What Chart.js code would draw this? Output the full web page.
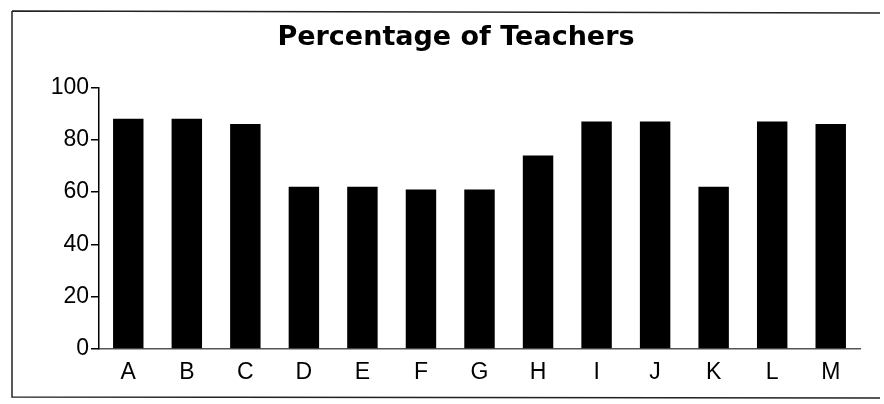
<!DOCTYPE html>
<html>
<head>
<meta charset="utf-8">
<script src="https://cdn.jsdelivr.net/npm/chart.js@4.4.0/dist/chart.umd.min.js"></script>
<style>
    html, body { margin: 0; padding: 0; background: #fff; }
    #wrap { width: 884px; height: 404px; position: relative; }
</style>
</head>
<body>
<div id="wrap"><canvas id="chart"></canvas></div>
<script>
// categories and values
const schools = ['A', 'B', 'C', 'D', 'E', 'F', 'G', 'H', 'I', 'J', 'K', 'L', 'M'];
const teacherPct = [88, 88, 86, 62, 62, 61, 61, 74, 87, 87, 62, 87, 86];
const yTicks = [0, 20, 40, 60, 80, 100];

// frame around the whole figure, like the scanned box
const framePlugin = {
    id: 'frame',
    beforeDraw(chart) {
        const ctx = chart.ctx;
        ctx.save();
        ctx.strokeStyle = '#222';
        ctx.lineWidth = 1.5;
        ctx.beginPath();
        ctx.moveTo(12, 11);
        ctx.lineTo(880, 13);
        ctx.moveTo(12, 11);
        ctx.lineTo(12, 397);
        ctx.lineTo(880, 398);
        ctx.stroke();
        ctx.restore();
    }
};

const ctx = document.getElementById('chart').getContext('2d');
new Chart(ctx, {
    type: 'bar',
    data: {
        labels: schools,
        datasets: [{
            label: 'Percentage of Teachers',
            data: teacherPct,
            backgroundColor: '#000',
            borderWidth: 0,
            categoryPercentage: 1.0,
            barPercentage: 0.52
        }]
    },
    options: {
        responsive: true,
        maintainAspectRatio: false,
        animation: false,
        layout: {
            // left padding pushes the title centre right, like the scan
            padding: { left: 52, right: 24, top: 8, bottom: 0 }
        },
        plugins: {
            legend: { display: false },
            tooltip: { enabled: false },
            title: {
                display: true,
                text: 'Percentage of Teachers',
                color: '#000',
                font: { family: 'DejaVu Sans', size: 27, weight: 'bold', lineHeight: 1.2 },
                padding: { top: 14, bottom: 33 }
            }
        },
        scales: {
            x: {
                afterFit(axis) { axis.height = 55; },
                grid: { display: false, drawTicks: false },
                border: { color: '#555', width: 1.5 },
                ticks: {
                    color: '#000',
                    padding: 10,
                    font: { family: 'Liberation Sans', size: 23 }
                }
            },
            y: {
                min: 0,
                max: 100,
                afterFit(axis) { axis.width = 47; },
                afterBuildTicks(axis) {
                    axis.ticks = yTicks.map(v => ({ value: v }));
                },
                grid: { drawOnChartArea: false, drawTicks: true, tickLength: 8, color: '#000', lineWidth: 1.5 },
                border: { color: '#000', width: 1.5 },
                ticks: {
                    color: '#000',
                    padding: 2,
                    font: { family: 'Liberation Sans', size: 23 }
                }
            }
        }
    },
    plugins: [framePlugin]
});
</script>
</body>
</html>
